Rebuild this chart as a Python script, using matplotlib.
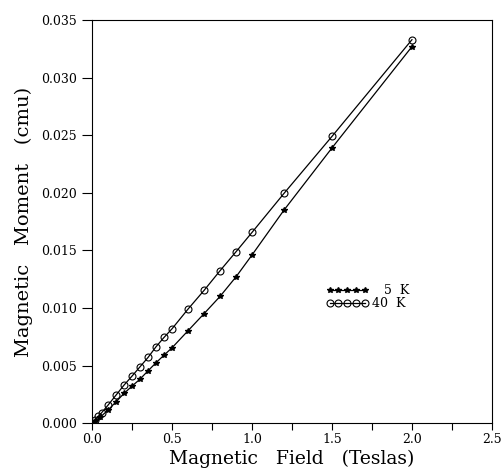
import numpy as np
import matplotlib.pyplot as plt
from matplotlib.ticker import MultipleLocator, FormatStrFormatter

# magnetisation curves, field in T, moment in emu
field_5k = [0.0, 0.02, 0.05, 0.10, 0.15, 0.20, 0.25, 0.30, 0.35, 0.40, 0.45,
            0.50, 0.60, 0.70, 0.80, 0.90, 1.00, 1.20, 1.50, 2.00]
moment_5k = [0.0, 0.0002, 0.0005, 0.00113, 0.00185, 0.00258, 0.00321, 0.00382,
             0.00454, 0.00524, 0.0059, 0.00654, 0.00802, 0.00950, 0.0110,
             0.0127, 0.0146, 0.0185, 0.0239, 0.0327]

field_40k = [0.0, 0.02, 0.04, 0.06, 0.10, 0.15, 0.20, 0.25, 0.30, 0.35, 0.40,
             0.45, 0.50, 0.60, 0.70, 0.80, 0.90, 1.00, 1.20, 1.50, 2.00]
moment_40k = [0.0, 0.0003, 0.0006, 0.0009, 0.00156, 0.00243, 0.0033, 0.00408,
              0.00489, 0.0057, 0.00663, 0.00744, 0.00819, 0.00990, 0.01152,
              0.01323, 0.01488, 0.01656, 0.01995, 0.0249, 0.0333]

plt.rcParams['font.family'] = ['DejaVu Serif']

fig = plt.figure(figsize=(5.03, 4.68), dpi=100)
ax = fig.add_axes([0.183, 0.096, 0.795, 0.861])

ax.plot(field_5k, moment_5k, color='black', lw=0.9, marker='*', ms=4,
        label='   5  K')
ax.plot(field_40k, moment_40k, color='black', lw=0.9, marker='o', ms=5,
        mfc='none', mew=0.8, label='40  K')

ax.set_xlim(0, 2.5)
ax.set_ylim(0, 0.035)
ax.xaxis.set_major_locator(MultipleLocator(0.5))
ax.xaxis.set_minor_locator(MultipleLocator(0.25))
ax.yaxis.set_major_locator(MultipleLocator(0.005))
ax.xaxis.set_major_formatter(FormatStrFormatter('%.1f'))
ax.yaxis.set_major_formatter(FormatStrFormatter('%.3f'))
ax.tick_params(which='both', direction='out', length=5, width=0.8,
               labelsize=9, pad=2)
ax.tick_params(axis='y', length=7, pad=4)

ax.set_xlabel('Magnetic   Field   (Teslas)', fontsize=13.5, labelpad=3)
ax.set_ylabel('Magnetic   Moment   (cmu)', fontsize=14, labelpad=6)

ax.legend(loc='center left', bbox_to_anchor=(0.585, 0.313), frameon=False,
          fontsize=9, numpoints=5, handlelength=3.4, labelspacing=0.0,
          handletextpad=0.3, borderpad=0, borderaxespad=0)

plt.savefig('out.png', dpi=100)
plt.close()
